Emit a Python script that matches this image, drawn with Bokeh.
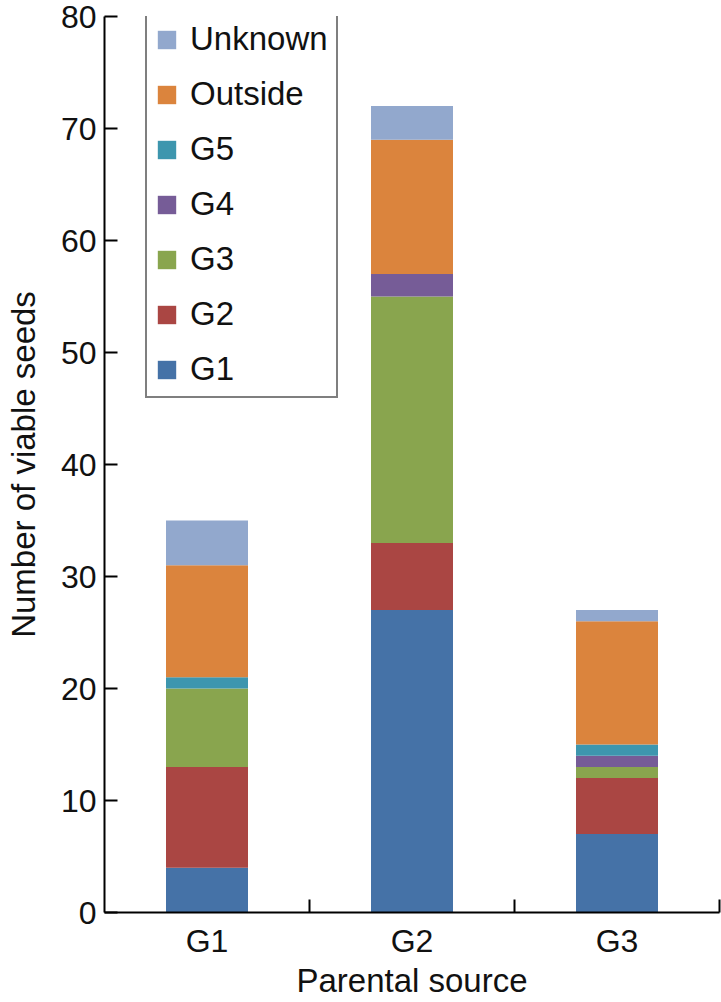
from bokeh.plotting import figure
from bokeh.models import Range1d, FixedTicker, Legend, LegendItem, ColumnDataSource
from bokeh.embed import file_html
from bokeh.resources import INLINE

categories = ["G1", "G2", "G3"]
series = ["G1", "G2", "G3", "G4", "G5", "Outside", "Unknown"]
g1 = [4, 27, 7]
g2 = [9, 6, 5]
g3 = [7, 22, 1]
g4 = [0, 2, 1]
g5 = [1, 0, 1]
outside = [10, 12, 11]
unknown = [4, 3, 1]
colors = ["#4572A7", "#AA4643", "#89A54E", "#765C97", "#3D96AE", "#DB843D", "#92A8CD"]
y_ticks = [0, 10, 20, 30, 40, 50, 60, 70, 80]

FONT = "Liberation Sans"

xpos = [i + 0.5 for i in range(len(categories))]
data = dict(x=xpos, G1=g1, G2=g2, G3=g3, G4=g4, G5=g5, Outside=outside, Unknown=unknown)
src = ColumnDataSource(data)

p = figure(width=721, height=1002, output_backend="svg", toolbar_location=None,
           x_range=Range1d(0, len(categories)), y_range=Range1d(0, 80),
           min_border_left=104, min_border_right=2, min_border_top=16, min_border_bottom=90)
p.outline_line_color = None
p.xgrid.visible = False
p.ygrid.visible = False
p.background_fill_color = "white"
p.border_fill_color = "white"

rs = p.vbar_stack(series, x="x", width=0.4, color=colors, line_color=None, source=src)

# axes
p.yaxis.ticker = FixedTicker(ticks=y_ticks)
p.yaxis.major_tick_in = 13
p.yaxis.major_tick_out = 0
p.yaxis.minor_tick_line_color = None
p.yaxis.axis_line_width = 2
p.yaxis.major_tick_line_width = 2
p.yaxis.major_label_text_font = FONT
p.yaxis.major_label_text_font_size = "32px"
p.yaxis.major_label_text_color = "#111111"
p.yaxis.major_label_standoff = 8
p.yaxis.axis_label = "Number of viable seeds"
p.yaxis.axis_label_text_font = FONT
p.yaxis.axis_label_text_font_size = "33px"
p.yaxis.axis_label_text_font_style = "normal"
p.yaxis.axis_label_text_color = "#111111"
p.yaxis.axis_label_standoff = 16

p.xaxis.ticker = FixedTicker(ticks=xpos, minor_ticks=[1, 2, 3])
p.xaxis.major_label_overrides = {x: c for x, c in zip(xpos, categories)}
p.xaxis.major_tick_in = 0
p.xaxis.major_tick_out = 0
p.xaxis.minor_tick_in = 13
p.xaxis.minor_tick_out = 0
p.xaxis.minor_tick_line_width = 2
p.xaxis.axis_line_width = 2
p.xaxis.major_label_text_font = FONT
p.xaxis.major_label_text_font_size = "32px"
p.xaxis.major_label_text_color = "#111111"
p.xaxis.major_label_standoff = 10
p.xaxis.axis_label = "Parental source"
p.xaxis.axis_label_text_font = FONT
p.xaxis.axis_label_text_font_size = "33px"
p.xaxis.axis_label_text_font_style = "normal"
p.xaxis.axis_label_text_color = "#111111"
p.xaxis.axis_label_standoff = 0

items = [LegendItem(label=s, renderers=[r]) for s, r in zip(series, rs)][::-1]
legend = Legend(items=items, location=(41, 514))
legend.label_text_font = FONT
legend.label_text_font_size = "33px"
legend.label_text_color = "#111111"
legend.glyph_width = 23
legend.glyph_height = 23
legend.label_height = 38
legend.label_standoff = 12
legend.spacing = 17
legend.padding = 8
legend.margin = 0
legend.border_line_color = "black"
legend.border_line_width = 2
legend.background_fill_alpha = 1
p.add_layout(legend, "center")

open("out.html", "w").write(file_html(p, INLINE))
